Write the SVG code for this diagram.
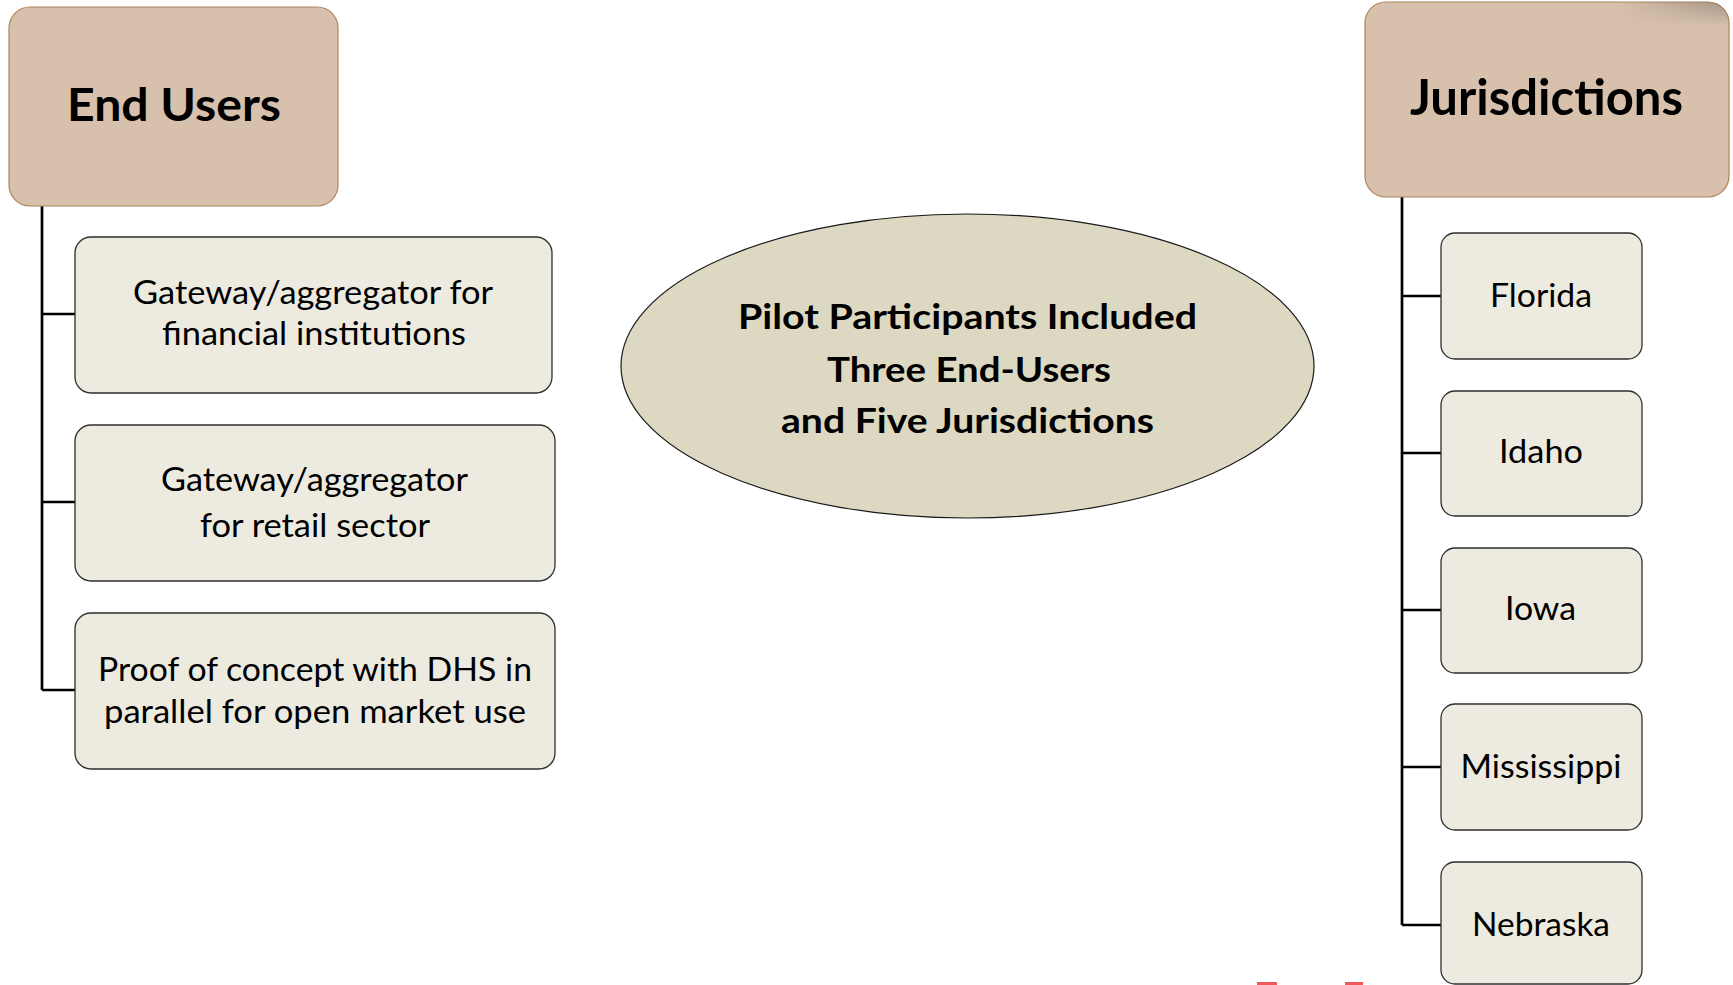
<svg xmlns="http://www.w3.org/2000/svg" width="1733" height="985" viewBox="0 0 1733 985">
  <style>
    .head { fill: #d7c1ad; stroke: #b0835a; stroke-width: 1.2; }
    .item { fill: #edebe0; stroke: #2e2e2e; stroke-width: 1.3; }
    .oval { fill: #ddd8c2; stroke: #1a1a1a; stroke-width: 1.2; }
    .conn { fill: none; stroke: #000; stroke-width: 2.7; }
    .ht { font-family: Lato, "Open Sans", sans-serif; font-weight: bold; fill: #000; text-anchor: middle; }
    .t { font-family: Lato, "Open Sans", sans-serif; fill: #000; text-anchor: middle; }
  </style>
  <defs>
    <clipPath id="jclip">
      <rect x="1365" y="2" width="364" height="195" rx="21"/>
    </clipPath>
    <linearGradient id="shadeH" x1="0" y1="0" x2="1" y2="0">
      <stop offset="0" stop-color="#6e6258" stop-opacity="0"/>
      <stop offset="1" stop-color="#6e6258" stop-opacity="0.55"/>
    </linearGradient>
    <linearGradient id="shadeV" x1="0" y1="0" x2="0" y2="1">
      <stop offset="0" stop-color="#fff" stop-opacity="1"/>
      <stop offset="1" stop-color="#fff" stop-opacity="0"/>
    </linearGradient>
    <mask id="vmask">
      <rect x="1620" y="0" width="113" height="26" fill="url(#shadeV)"/>
    </mask>
  </defs>
  <rect width="1733" height="985" fill="#ffffff"/>
  <g id="connectors">
    <path class="conn" d="M42 206 V690 M42 314 H75 M42 502 H75 M42 690 H75"/>
    <path class="conn" d="M1402 197 V925 M1402 296 H1441 M1402 453 H1441 M1402 610 H1441 M1402 767 H1441 M1402 925 H1441"/>
  </g>
  <g id="end-users">
    <rect class="head" x="9" y="7" width="329" height="199" rx="21"/>
    <text class="ht" x="174" y="121" font-size="46" textLength="214" lengthAdjust="spacingAndGlyphs">End Users</text>
  </g>
  <g id="eu-financial">
    <rect class="item" x="75" y="237" width="477" height="156" rx="16"/>
    <text class="t" x="313" y="304" font-size="32" textLength="360" lengthAdjust="spacingAndGlyphs">Gateway/aggregator for</text>
    <text class="t" x="314" y="345" font-size="32" textLength="304" lengthAdjust="spacingAndGlyphs">financial institutions</text>
  </g>
  <g id="eu-retail">
    <rect class="item" x="75" y="425" width="480" height="156" rx="16"/>
    <text class="t" x="314.5" y="491" font-size="32" textLength="307" lengthAdjust="spacingAndGlyphs">Gateway/aggregator</text>
    <text class="t" x="315" y="537" font-size="32" textLength="230" lengthAdjust="spacingAndGlyphs">for retail sector</text>
  </g>
  <g id="eu-dhs">
    <rect class="item" x="75" y="613" width="480" height="156" rx="16"/>
    <text class="t" x="315" y="681" font-size="32" textLength="434" lengthAdjust="spacingAndGlyphs">Proof of concept with DHS in</text>
    <text class="t" x="315" y="723" font-size="32" textLength="422" lengthAdjust="spacingAndGlyphs">parallel for open market use</text>
  </g>
  <g id="pilot">
    <ellipse class="oval" cx="967.5" cy="366" rx="346.5" ry="152"/>
    <text class="ht" x="967.5" y="329" font-size="35" textLength="459" lengthAdjust="spacingAndGlyphs">Pilot Participants Included</text>
    <text class="ht" x="969" y="382" font-size="35" textLength="284" lengthAdjust="spacingAndGlyphs">Three End-Users</text>
    <text class="ht" x="967.5" y="433" font-size="35" textLength="373" lengthAdjust="spacingAndGlyphs">and Five Jurisdictions</text>
  </g>
  <g id="jurisdictions">
    <rect class="head" x="1365" y="2" width="364" height="195" rx="21"/>
    <g clip-path="url(#jclip)">
      <rect x="1620" y="0" width="113" height="26" fill="url(#shadeH)" mask="url(#vmask)"/>
    </g>
    <text class="ht" x="1546.5" y="115" font-size="49" textLength="273" lengthAdjust="spacingAndGlyphs">Jurisdictions</text>
  </g>
  <g id="florida">
    <rect class="item" x="1441" y="233" width="201" height="126" rx="14"/>
    <text class="t" x="1541" y="307" font-size="32" textLength="102" lengthAdjust="spacingAndGlyphs">Florida</text>
  </g>
  <g id="idaho">
    <rect class="item" x="1441" y="391" width="201" height="125" rx="14"/>
    <text class="t" x="1541" y="463" font-size="32" textLength="84" lengthAdjust="spacingAndGlyphs">Idaho</text>
  </g>
  <g id="iowa">
    <rect class="item" x="1441" y="548" width="201" height="125" rx="14"/>
    <text class="t" x="1540.5" y="620" font-size="32" textLength="71" lengthAdjust="spacingAndGlyphs">Iowa</text>
  </g>
  <g id="mississippi">
    <rect class="item" x="1441" y="704" width="201" height="126" rx="14"/>
    <text class="t" x="1541" y="778" font-size="32" textLength="161" lengthAdjust="spacingAndGlyphs">Mississippi</text>
  </g>
  <g id="nebraska">
    <rect class="item" x="1441" y="862" width="201" height="122" rx="14"/>
    <text class="t" x="1541" y="936" font-size="32" textLength="138" lengthAdjust="spacingAndGlyphs">Nebraska</text>
  </g>
  <g id="marks">
    <rect x="1257" y="982" width="20" height="3" fill="#f05a5a"/>
    <rect x="1345" y="982" width="18" height="3" fill="#f05a5a"/>
  </g>
</svg>
